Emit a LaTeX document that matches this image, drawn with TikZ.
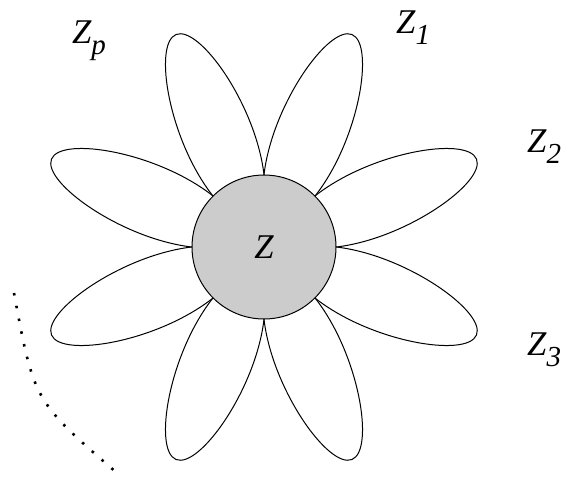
\documentclass[tikz,border=0pt]{standalone}
\usepackage{fontspec}
\setmainfont{Liberation Serif}
\newfontfamily\labelfont{Liberation Serif}
\newcommand\mysub[1]{\raisebox{-11pt}{\fontsize{29}{30}\selectfont #1}}
\begin{document}
\begin{tikzpicture}[x=1pt,y=-1pt,
  petal/.style={draw=black, line width=1pt},
  lbl/.style={anchor=base west, inner sep=0pt, font=\labelfont\itshape\fontsize{34.7}{40}\selectfont},
  hub/.style={circle, draw=black, line width=1pt, fill=gray!40, minimum size=144pt, inner sep=0pt, font=\labelfont\itshape\fontsize{34.7}{40}\selectfont},
  dotarc/.style={line width=2.6pt, dash pattern=on 2.5pt off 10.5pt}
]
\useasboundingbox (0,0) rectangle (563,480);
\coordinate (c) at (264,247);
\foreach \a in {22.5,67.5,...,337.5}{
  \draw[petal, shift={(c)}, x=1pt, y=1pt, rotate=\a]
    (66.5,-27.6) .. controls (135,-47) and (230,-25) .. (230,0)
    .. controls (230,25) and (135,47) .. (66.5,27.6);
}
\node[hub] (z) at (c) {Z};
\node[lbl] (zp) at (72,43) {Z\mysub{p}};
\node[lbl] (z1) at (396,33) {Z\mysub{1}};
\node[lbl] (z2) at (527,152) {Z\mysub{2}};
\node[lbl] (z3) at (527,355) {Z\mysub{3}};
\coordinate (d1) at (14,293);
\coordinate (d2) at (117,473);
\draw[dotarc] (d1) .. controls (34,401) .. (d2);
\end{tikzpicture}
\end{document}
